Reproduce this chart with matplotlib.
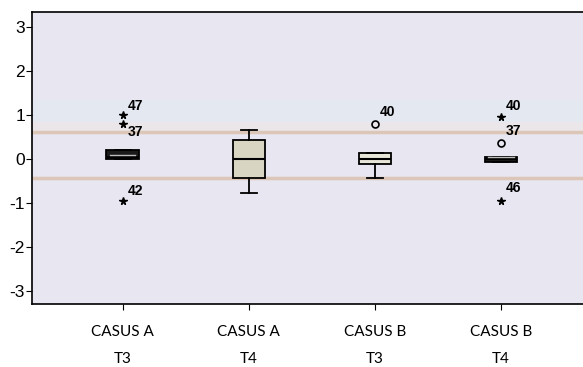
# boxplots casus A / casus B, T3 et T4

import numpy as np
import matplotlib
matplotlib.use('Agg')
import matplotlib.pyplot as plt

# donnees
groupes = ['CASUS A\nT3', 'CASUS A\nT4', 'CASUS B\nT3', 'CASUS B\nT4']
q1 = [0.0, -0.42, -0.12, -0.07]
med = [0.05, 0.0, 0.0, 0.0]
q3 = [0.2, 0.43, 0.13, 0.05]
wlo = [0.0, -0.77, -0.42, -0.07]
whi = [0.2, 0.66, 0.13, 0.05]

# valeurs extremes (*) et aberrantes (o)
etoiles_x = [1, 1, 1, 4, 4]
etoiles_y = [1.0, 0.81, -0.95, 0.96, -0.95]
cercles_x = [3, 4]
cercles_y = [0.79, 0.37]
etiq = ['47', '37', '42', '40', '40', '37', '46']
etiq_x = [1, 1, 1, 3, 4, 4, 4]
etiq_y = [1.22, 0.62, -0.73, 1.07, 1.2, 0.64, -0.65]

remplissage = ['#1a1a1a', '#d9d5c3', '#e8e6d8', '#1a1a1a']

fig = plt.figure(figsize=(5.83, 3.67), dpi=100)
ax = fig.add_axes([0.055, 0.172, 0.945, 0.795])
ax.set_facecolor('#e7e6f1')

# bandes de couleur du fond
ax.axhspan(0.85, 1.35, color='#e3e8f1', lw=0, zorder=0)
ax.axhspan(0.64, 0.85, color='#ebe6ea', lw=0, zorder=0)
ax.axhline(0.62, color='#dcc6b8', lw=2.5, zorder=1)
ax.axhline(-0.44, color='#dcc6b8', lw=2.5, zorder=1)

stats = []
for i in range(4):
    stats.append({'med': med[i], 'q1': q1[i], 'q3': q3[i],
                  'whislo': wlo[i], 'whishi': whi[i], 'fliers': []})
bp = ax.bxp(stats, positions=[1, 2, 3, 4], widths=0.26, patch_artist=True,
            showcaps=True, zorder=3,
            boxprops=dict(edgecolor='black', linewidth=1.3),
            medianprops=dict(color='black', linewidth=1.5),
            whiskerprops=dict(color='black', linewidth=1.3),
            capprops=dict(color='black', linewidth=1.3))
for p, c in zip(bp['boxes'], remplissage):
    p.set_facecolor(c)
# bande claire dans les boites sombres
for i in [0, 3]:
    ax.plot([i + 1 - 0.1, i + 1 + 0.1], [med[i] + 0.04, med[i] + 0.04],
            color='#bdbdbd', lw=1, zorder=4)

ax.plot(etoiles_x, etoiles_y, '*', color='black', ms=5.5, zorder=5)
ax.plot(cercles_x, cercles_y, 'o', mfc='none', mec='black', ms=5, mew=1.2, zorder=5)
for t, x, y in zip(etiq, etiq_x, etiq_y):
    ax.text(x + 0.04, y, t, fontsize=10, fontweight='bold', family='Liberation Sans',
            ha='left', va='center', zorder=6)

ax.set_xlim(0.28, 4.65)
ax.set_ylim(-3.3, 3.35)
ax.set_yticks([-3, -2, -1, 0, 1, 2, 3])
ax.set_yticklabels(['-3', '-2', '-1', '0', '1', '2', '3'], fontsize=12.5,
                   family='Liberation Sans')
ax.set_xticks([1, 2, 3, 4])
ax.set_xticklabels(groupes, fontsize=11, family='Lato', linespacing=2.2)
ax.tick_params(axis='y', length=4, pad=1)
ax.tick_params(axis='x', length=4, pad=11)
ax.spines['right'].set_visible(False)
for s in ['left', 'top', 'bottom']:
    ax.spines[s].set_linewidth(1.2)

plt.savefig('out.png', dpi=100)
